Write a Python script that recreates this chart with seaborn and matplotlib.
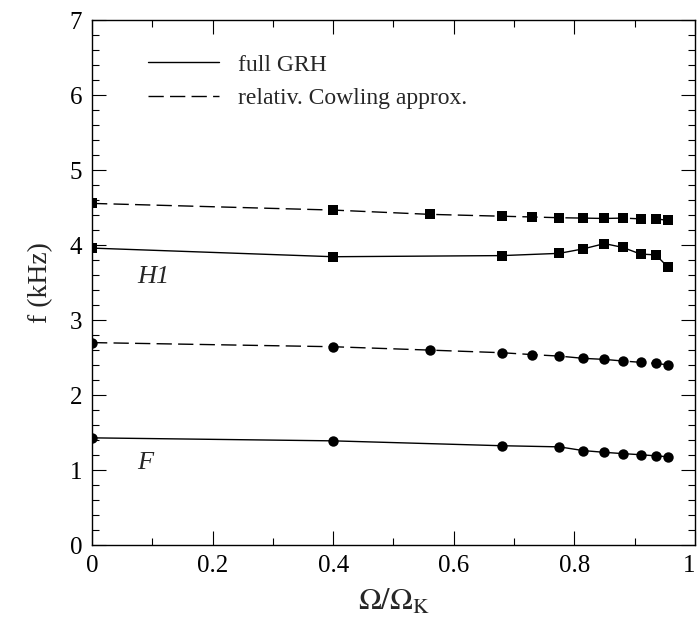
import matplotlib
matplotlib.use("Agg")
import matplotlib.pyplot as plt
import seaborn as sns
from matplotlib.lines import Line2D
from matplotlib.ticker import MultipleLocator

# ---- data ----
x_all = [0.0, 0.4, 0.56, 0.68, 0.73, 0.775, 0.815, 0.85, 0.88, 0.91, 0.935, 0.955]
x_grh = [0.0, 0.4, 0.68, 0.775, 0.815, 0.85, 0.88, 0.91, 0.935, 0.955]

h1_grh = [3.96, 3.845, 3.86, 3.89, 3.95, 4.02, 3.97, 3.88, 3.87, 3.71]
h1_cow = [4.556, 4.467, 4.41, 4.385, 4.375, 4.365, 4.36, 4.355, 4.36, 4.35, 4.35, 4.33]
f_grh = [1.43, 1.39, 1.325, 1.31, 1.26, 1.237, 1.22, 1.205, 1.19, 1.178]
f_cow = [2.70, 2.645, 2.60, 2.565, 2.54, 2.52, 2.49, 2.476, 2.455, 2.437, 2.422, 2.404]

legend_labels = ["full GRH", "relativ. Cowling approx."]
mode_labels = ["H1", "F"]
xtick_vals = [0, 0.2, 0.4, 0.6, 0.8, 1.0]
xtick_labels = ["0", "0.2", "0.4", "0.6", "0.8", "1"]

sns.set_style("ticks")
plt.rcParams["font.family"] = ["Liberation Serif", "DejaVu Serif"]
plt.rcParams["mathtext.fontset"] = "stix"

fig = plt.figure(figsize=(6.97, 6.28), dpi=100)
ax = fig.add_axes([0.132, 0.132, 0.865, 0.836])

dash = (11, 4.5)
sns.lineplot(x=x_grh, y=h1_grh, ax=ax, color="black", lw=1.0, marker="s",
             markersize=6.5, markeredgewidth=0, sort=False, estimator=None)
sns.lineplot(x=x_all, y=h1_cow, ax=ax, color="black", lw=1.0, marker="s",
             markersize=6.5, markeredgewidth=0, sort=False,
             estimator=None, linestyle=(0, dash))
sns.lineplot(x=x_grh, y=f_grh, ax=ax, color="black", lw=1.0, marker="o",
             markersize=7.5, markeredgewidth=0, sort=False, estimator=None)
sns.lineplot(x=x_all, y=f_cow, ax=ax, color="black", lw=1.0, marker="o",
             markersize=7.5, markeredgewidth=0, sort=False,
             estimator=None, linestyle=(0, dash))

ax.set_xlim(0, 1)
ax.set_ylim(0, 7)
ax.xaxis.set_minor_locator(MultipleLocator(0.1))
ax.yaxis.set_major_locator(MultipleLocator(1))
ax.yaxis.set_minor_locator(MultipleLocator(0.2))
ax.set_xticks(xtick_vals)
ax.set_xticklabels(xtick_labels)
ax.tick_params(which="both", direction="in", top=True, right=True,
               width=0.8, labelsize=18, colors="black")
ax.tick_params(which="major", length=10, pad=7)
ax.tick_params(which="minor", length=5)
ax.get_xticklabels()[-1].set_horizontalalignment("right")
for s in ax.spines.values():
    s.set_linewidth(1.0)
    s.set_color("black")

ax.set_xlabel(r"$\Omega/\Omega_{\mathrm{K}}$", fontsize=22, labelpad=8)
ax.set_ylabel("f (kHz)", fontsize=20, labelpad=12)

ax.text(0.075, 3.58, mode_labels[0], style="italic", fontsize=19, va="center", ha="left")
ax.text(0.075, 1.1, mode_labels[1], style="italic", fontsize=19, va="center", ha="left")

handles = [Line2D([], [], color="black", lw=1.0),
           Line2D([], [], color="black", lw=1.0, linestyle=(0, dash))]
ax.legend(handles, legend_labels, loc="upper left", bbox_to_anchor=(0.093, 0.935),
          frameon=False, fontsize=17, handlelength=3.0, handletextpad=0.8,
          labelspacing=0.5, borderpad=0, borderaxespad=0)

fig.savefig("out.png", dpi=100)
